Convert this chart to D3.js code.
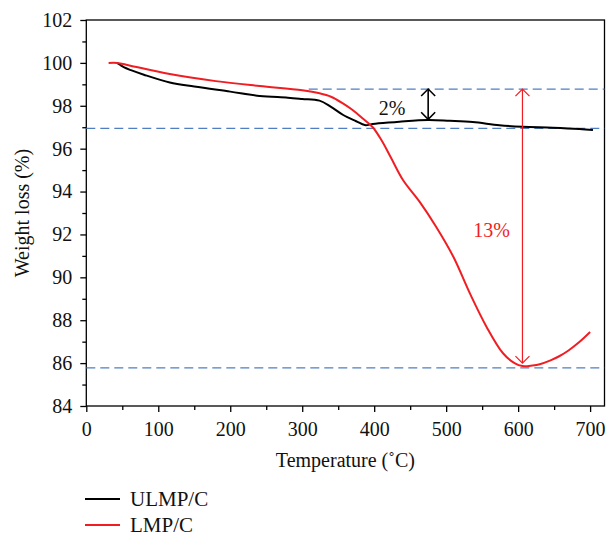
<!DOCTYPE html>
<html lang="en">
  <head>
    <meta charset="utf-8">
    <title>TGA curves</title>
    <script src="https://cdn.jsdelivr.net/npm/d3@7"></script>
    <style>
      html, body { margin: 0; padding: 0; background: white; overflow: hidden; }
      svg { display: block; }
    </style>
  </head>
  <body>
    <script type="text/javascript">

      var w = 606;
      var h = 535;
      var margin = {top: 20, right: 1.5, bottom: 129, left: 86.3};
      var font = "Liberation Serif, Times New Roman, serif";

      // data
      var ulmpTemp = [42.5, 46, 52, 62, 80, 116, 150, 200, 241, 280, 300, 324, 340, 357, 375, 387, 398, 420, 435, 475, 505, 537, 574, 606, 648, 685, 704];
      var ulmpWeight = [100, 99.93, 99.8, 99.66, 99.45, 99.09, 98.9, 98.66, 98.46, 98.38, 98.32, 98.24, 97.95, 97.57, 97.28, 97.1, 97.15, 97.22, 97.26, 97.34, 97.30, 97.24, 97.09, 97.02, 96.98, 96.92, 96.87];
      var lmpTemp = [31, 43, 60, 116, 180, 241, 300, 324, 340, 357, 370, 385, 398, 410, 423, 440, 463, 486, 510, 533, 556, 579, 595, 606, 620, 630, 645, 657, 670, 685, 700];
      var lmpWeight = [100, 100, 99.88, 99.48, 99.15, 98.92, 98.72, 98.58, 98.42, 98.1, 97.8, 97.38, 97.0, 96.4, 95.6, 94.54, 93.53, 92.36, 90.96, 89.25, 87.70, 86.46, 86.0, 85.86, 85.89, 85.95, 86.13, 86.32, 86.59, 86.98, 87.45];

      var xTicks = [0, 100, 200, 300, 400, 500, 600, 700];
      var xMinor = [50, 150, 250, 350, 450, 550, 650];
      var yTicks = [84, 86, 88, 90, 92, 94, 96, 98, 100, 102];
      var yMinor = [85, 87, 89, 91, 93, 95, 97, 99, 101];

      // dashed guide levels and the temperature where each starts
      var guideLevels = [98.78, 96.95, 85.78];
      var guideStart = [309, 0, 0];

      // arrows: temperature, from, to
      var arrowTemp = [475, 606];
      var arrowFrom = [98.78, 98.78];
      var arrowTo = [97.37, 86.0];
      var arrowLabel = ["2%", "13%"];
      var labelTemp = [425, 563];
      var labelWeight = [97.57, 91.88];

      var seriesNames = ["ULMP/C", "LMP/C"];
      var colors = ["#000000", "#f01e23"];

      var innerWidth = w - margin.left - margin.right;
      var innerHeight = h - margin.top - margin.bottom;

      var svg = d3.select("body")
          .append("svg")
          .attr("width", w)
          .attr("height", h)
          .attr("font-family", font)
          .attr("font-size", 20);

      var xScale = d3.scaleLinear().domain([0, 720]).range([0, innerWidth]);
      var yScale = d3.scaleLinear().domain([84, 102]).range([innerHeight, 0]);

      var g = svg.append("g")
          .attr("transform", `translate(${margin.left}, ${margin.top})`);

      // frame
      g.append("rect")
          .attr("x", 0).attr("y", 0)
          .attr("width", innerWidth).attr("height", innerHeight)
          .attr("fill", "none")
          .attr("stroke", "black")
          .attr("stroke-width", 1.3);

      // axes
      var xAxis = d3.axisBottom(xScale).tickValues(xTicks).tickSize(6).tickSizeOuter(0).tickPadding(10);
      var xAxisMinor = d3.axisBottom(xScale).tickValues(xMinor).tickSize(4).tickSizeOuter(0).tickFormat("");
      var yAxis = d3.axisLeft(yScale).tickValues(yTicks).tickSize(6).tickSizeOuter(0).tickPadding(8);
      var yAxisMinor = d3.axisLeft(yScale).tickValues(yMinor).tickSize(4).tickSizeOuter(0).tickFormat("");

      [xAxis, xAxisMinor].forEach(function(a) {
        g.append("g")
            .attr("class", "xAxis")
            .attr("transform", `translate(0, ${innerHeight})`)
            .call(a)
            .attr("font-family", font)
            .attr("font-size", 20);
      });
      [yAxis, yAxisMinor].forEach(function(a) {
        g.append("g")
            .attr("class", "yAxis")
            .call(a)
            .attr("font-family", font)
            .attr("font-size", 20);
      });

      g.selectAll(".xAxis path, .yAxis path").remove();
      // minor axes carry empty labels, drop them
      g.selectAll(".tick text").filter(function() { return this.textContent == "" }).remove();
      g.selectAll(".tick line").attr("stroke", "black").attr("stroke-width", 1.3);
      g.selectAll(".tick text").attr("fill", "#111");

      // dashed guides
      g.selectAll(".guide")
          .data(guideLevels)
          .enter().append("line")
          .attr("class", "guide")
          .attr("x1", function(d, i) { return xScale(guideStart[i]) })
          .attr("x2", innerWidth)
          .attr("y1", function(d) { return yScale(d) })
          .attr("y2", function(d) { return yScale(d) })
          .attr("stroke", "#4f7fc0")
          .attr("stroke-width", 1.3)
          .attr("stroke-dasharray", "9,5");

      // curves
      var line = d3.line()
          .x(function(d) { return xScale(d[0]) })
          .y(function(d) { return yScale(d[1]) })
          .curve(d3.curveCatmullRom.alpha(0.5));

      var series = [d3.zip(ulmpTemp, ulmpWeight), d3.zip(lmpTemp, lmpWeight)];

      g.selectAll(".curve")
          .data(series)
          .enter().append("path")
          .attr("class", "curve")
          .attr("d", line)
          .attr("fill", "none")
          .attr("stroke", function(d, i) { return colors[i] })
          .attr("stroke-width", 2);

      // arrows
      var defs = svg.append("defs");
      colors.forEach(function(c, i) {
        defs.append("marker")
            .attr("id", "head" + i)
            .attr("viewBox", "-8 -8 16 16")
            .attr("markerWidth", 16)
            .attr("markerHeight", 16)
            .attr("markerUnits", "userSpaceOnUse")
            .attr("refX", 0).attr("refY", 0)
            .attr("orient", "auto-start-reverse")
            .append("path")
            .attr("d", "M-7,-7 L0,0 L-7,7")
            .attr("fill", "none")
            .attr("stroke", c)
            .attr("stroke-width", i == 0 ? 1.6 : 1.2);
      });

      g.selectAll(".arrow")
          .data(arrowTemp)
          .enter().append("line")
          .attr("class", "arrow")
          .attr("x1", function(d) { return xScale(d) })
          .attr("x2", function(d) { return xScale(d) })
          .attr("y1", function(d, i) { return yScale(arrowFrom[i]) })
          .attr("y2", function(d, i) { return yScale(arrowTo[i]) })
          .attr("stroke", function(d, i) { return colors[i] })
          .attr("stroke-width", function(d, i) { return i == 0 ? 1.6 : 1.2 })
          .attr("marker-start", function(d, i) { return "url(#head" + i + ")" })
          .attr("marker-end", function(d, i) { return "url(#head" + i + ")" });

      g.selectAll(".arrowLabel")
          .data(arrowLabel)
          .enter().append("text")
          .attr("class", "arrowLabel")
          .attr("x", function(d, i) { return xScale(labelTemp[i]) })
          .attr("y", function(d, i) { return yScale(labelWeight[i]) })
          .attr("text-anchor", "middle")
          .attr("fill", function(d, i) { return i == 0 ? "#111" : colors[1] })
          .text(function(d) { return d });

      // axis titles
      svg.append("text")
          .attr("x", margin.left + innerWidth / 2)
          .attr("y", 467)
          .attr("text-anchor", "middle")
          .attr("fill", "#111")
          .text("Temperature (\u02DAC)");

      svg.append("text")
          .attr("transform", `translate(29, ${margin.top + innerHeight / 2}) rotate(-90)`)
          .attr("text-anchor", "middle")
          .attr("fill", "#111")
          .text("Weight loss (%)");

      // legend
      var legend = svg.append("g").selectAll("g")
          .data(seriesNames)
          .enter().append("g")
          .attr("transform", function(d, i) { return `translate(85, ${499 + i * 26})` });

      legend.append("line")
          .attr("x1", 0).attr("x2", 35)
          .attr("y1", 0).attr("y2", 0)
          .attr("stroke", function(d, i) { return colors[i] })
          .attr("stroke-width", 1.8);

      legend.append("text")
          .attr("x", 45)
          .attr("y", 7)
          .attr("fill", "#111")
          .attr("font-size", 21)
          .text(function(d) { return d });

    </script>
  </body>
</html>
